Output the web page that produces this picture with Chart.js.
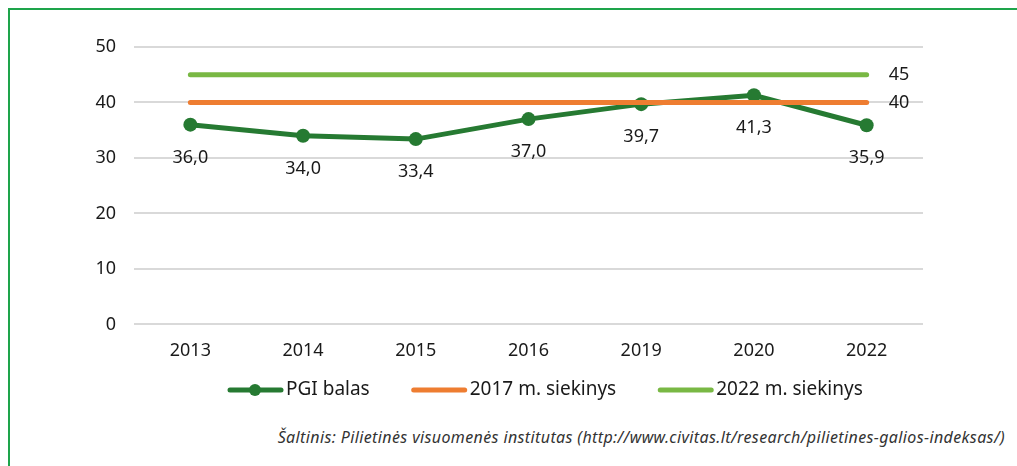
<!DOCTYPE html>
<html lang="lt">
<head>
<meta charset="UTF-8">
<title>PGI balas</title>
<script src="https://cdn.jsdelivr.net/npm/chart.js"></script>
<style>
  html, body { margin: 0; padding: 0; background: #fff; overflow: hidden; }
  body { width: 1017px; height: 466px; position: relative; font-family: "Noto Sans", sans-serif; }
  .frame { position: absolute; left: 8px; top: 8px; width: 1100px; height: 520px; border: 2px solid #1ea44b; box-sizing: border-box; }
  #wrap { position: absolute; left: 0; top: 0; width: 1017px; height: 412px; }
  .source { position: absolute; right: 12px; top: 426px; font-size: 16px; font-style: italic; color: #333; letter-spacing: 0.38px; }
</style>
</head>
<body>
<div class="frame"></div>
<div id="wrap"><canvas id="chart"></canvas></div>
<div class="source">Šaltinis: Pilietinės visuomenės institutas (http://www.civitas.lt/research/pilietines-galios-indeksas/)</div>
<script>
const years = ['2013', '2014', '2015', '2016', '2019', '2020', '2022'];
const pgiScore = [36.0, 34.0, 33.4, 37.0, 39.7, 41.3, 35.9];
const target2017 = [40, 40, 40, 40, 40, 40, 40];
const target2022 = [45, 45, 45, 45, 45, 45, 45];
const seriesNames = ['PGI balas', '2017 m. siekinys', '2022 m. siekinys'];
const colors = ['#267a32', '#ee7d31', '#79b844'];

const font = { family: '"Noto Sans", sans-serif', size: 18 };

// value labels under the PGI points, target values to the right, plus a hand drawn legend
const valueLabels = {
    id: 'valueLabels',
    afterDatasetsDraw(chart) {
        const ctx = chart.ctx;
        ctx.save();
        ctx.font = '18px "Noto Sans", sans-serif';
        ctx.fillStyle = '#1a1a1a';
        const pgi = chart.getDatasetMeta(0);
        ctx.textAlign = 'center';
        ctx.textBaseline = 'middle';
        pgi.data.forEach((pt, i) => {
            ctx.fillText(pgiScore[i].toFixed(1).replace('.', ','), pt.x, pt.y + 33);
        });
        ctx.textAlign = 'left';
        [1, 2].forEach(di => {
            const pts = chart.getDatasetMeta(di).data;
            const last = pts[pts.length - 1];
            const v = chart.data.datasets[di].data[pts.length - 1];
            ctx.fillText(String(v), last.x + 22, last.y);
        });
        ctx.restore();
    },
    afterDraw(chart) {
        const ctx = chart.ctx;
        const y = 390;
        let x = 228;
        ctx.save();
        ctx.font = '19px "Noto Sans", sans-serif';
        ctx.textBaseline = 'middle';
        ctx.lineCap = 'round';
        ctx.lineWidth = 5;
        seriesNames.forEach((name, i) => {
            ctx.strokeStyle = colors[i];
            ctx.beginPath();
            ctx.moveTo(x + 2, y);
            ctx.lineTo(x + 53, y);
            ctx.stroke();
            if (i === 0) {
                ctx.fillStyle = colors[0];
                ctx.beginPath();
                ctx.arc(x + 27, y, 6, 0, Math.PI * 2);
                ctx.fill();
            }
            ctx.fillStyle = '#1a1a1a';
            ctx.fillText(name, x + 58, y);
            x += 58 + ctx.measureText(name).width + 42;
        });
        ctx.restore();
    }
};

new Chart(document.getElementById('chart'), {
    type: 'line',
    data: {
        labels: years,
        datasets: [
            {
                label: seriesNames[0], data: pgiScore, order: 2,
                borderColor: colors[0], backgroundColor: colors[0],
                borderWidth: 5, pointRadius: 7, pointHoverRadius: 7,
                pointBackgroundColor: colors[0], pointBorderWidth: 0
            },
            {
                label: seriesNames[1], data: target2017, order: 0,
                borderColor: colors[1], backgroundColor: colors[1],
                borderWidth: 5, pointRadius: 0, borderCapStyle: 'round'
            },
            {
                label: seriesNames[2], data: target2022, order: 1,
                borderColor: colors[2], backgroundColor: colors[2],
                borderWidth: 5, pointRadius: 0, borderCapStyle: 'round'
            }
        ]
    },
    options: {
        responsive: true,
        maintainAspectRatio: false,
        animation: false,
        layout: { padding: { top: 47, right: 94, left: 0, bottom: 34 } },
        scales: {
            x: {
                offset: true,
                grid: { display: false, drawTicks: false, offset: true },
                border: { display: false },
                ticks: { font: font, color: '#1a1a1a', padding: 16 }
            },
            y: {
                min: 0, max: 50,
                afterFit(scale) { scale.width = 134; },
                grid: { color: '#d9d9d9', lineWidth: 2, drawTicks: false },
                border: { display: false },
                ticks: { stepSize: 10, font: font, color: '#1a1a1a', padding: 18 }
            }
        },
        plugins: {
            tooltip: { enabled: false },
            legend: { display: false }
        }
    },
    plugins: [valueLabels]
});
</script>
</body>
</html>
